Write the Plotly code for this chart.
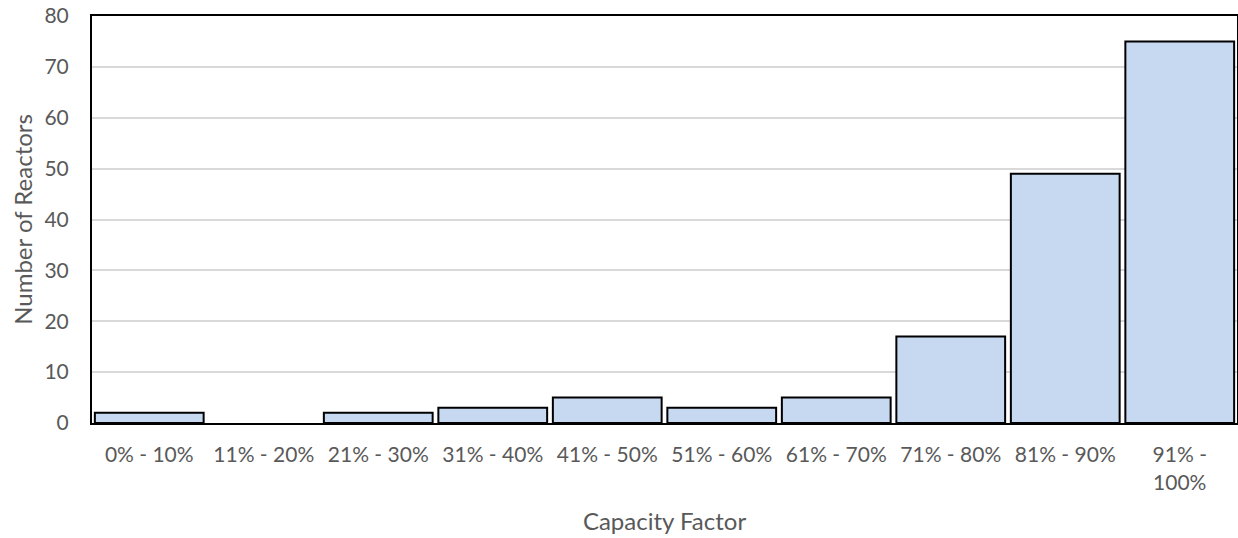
import plotly.graph_objects as go

categories = ["0% - 10%", "11% - 20%", "21% - 30%", "31% - 40%", "41% - 50%",
              "51% - 60%", "61% - 70%", "71% - 80%", "81% - 90%", "91% -<br>100%"]
reactors = [2, 0, 2, 3, 5, 3, 5, 17, 49, 75]
y_ticks = [0, 10, 20, 30, 40, 50, 60, 70, 80]

FONT = "Lato"
GREY = "#595959"

fig = go.Figure(go.Bar(
    x=categories, y=reactors,
    marker=dict(color="#C6D9F1",
                line=dict(color="#000000", width=[2 if v > 0 else 0 for v in reactors])),
))

fig.update_layout(
    width=1238, height=538,
    margin=dict(l=92, r=1, t=16, b=115),
    plot_bgcolor="white", paper_bgcolor="white",
    bargap=0.05,
    showlegend=False,
    font=dict(family=FONT, size=21, color=GREY),
)
fig.update_xaxes(
    showline=True, linecolor="black", linewidth=2, mirror=True,
    showgrid=False, ticks="", ticklabelstandoff=12,
    tickfont=dict(family=FONT, size=21, color=GREY),
    title=dict(text="Capacity Factor", font=dict(family=FONT, size=24, color=GREY), standoff=21),
    automargin=False,
)
fig.update_yaxes(
    range=[0, 80], tickvals=y_ticks,
    showline=True, linecolor="black", linewidth=2, mirror=True,
    showgrid=True, gridcolor="#D9D9D9", gridwidth=1.5,
    zeroline=False, ticks="", ticklabelstandoff=17,
    tickfont=dict(family=FONT, size=21, color=GREY),
    title=dict(text="Number of Reactors", font=dict(family=FONT, size=24, color=GREY), standoff=5),
    automargin=False,
)

# remove the default 8px page margin so the figure sits at the window's corner
fig.write_html("out.html", config={"displayModeBar": False},
               post_script="document.body.style.margin='0';")
